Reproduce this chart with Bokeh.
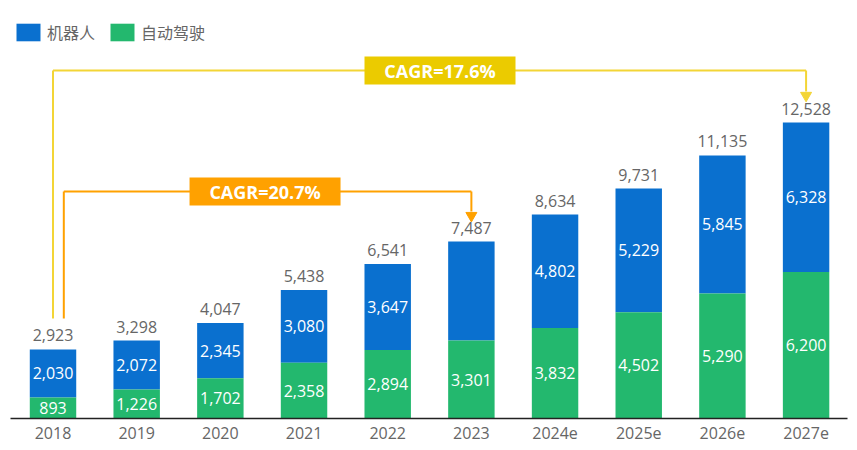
from bokeh.plotting import figure
from bokeh.models import Range1d, FixedTicker, Legend, LegendItem, ColumnDataSource
from bokeh.core.properties import value
from bokeh.embed import file_html
from bokeh.resources import INLINE

years = ["2018", "2019", "2020", "2021", "2022", "2023", "2024e", "2025e", "2026e", "2027e"]
robot = [2030, 2072, 2345, 3080, 3647, 4186, 4802, 5229, 5845, 6328]
auto = [893, 1226, 1702, 2358, 2894, 3301, 3832, 4502, 5290, 6200]
robot_labels = ["2,030", "2,072", "2,345", "3,080", "3,647", "", "4,802", "5,229", "5,845", "6,328"]
auto_labels = ["893", "1,226", "1,702", "2,358", "2,894", "3,301", "3,832", "4,502", "5,290", "6,200"]
total_labels = ["2,923", "3,298", "4,047", "5,438", "6,541", "7,487", "8,634", "9,731", "11,135", "12,528"]
cagr_labels = ["CAGR=20.7%", "CAGR=17.6%"]
legend_names = ["机器人", "自动驾驶"]

BLUE = "#0A70CF"
GREEN = "#23B86E"
YELLOW = "#EBCB00"
YELLOW_LINE = "#F3D536"
ORANGE = "#FFA100"
GRAY = "#666666"
NUM_FONT = "Open Sans"
CJK_FONT = "Noto Sans CJK SC"

FRAME_H = 418
Y_END = 17692
px = Y_END / FRAME_H  # data units per pixel

x = list(range(len(years)))
totals = [r + a for r, a in zip(robot, auto)]

p = figure(width=849, height=444, output_backend="svg", toolbar_location=None,
           x_range=Range1d(-0.508, 9.495), y_range=Range1d(0, Y_END),
           y_axis_location=None, min_border_left=10, min_border_right=2,
           min_border_top=0, min_border_bottom=26)
p.xgrid.visible = False
p.ygrid.visible = False
p.outline_line_color = None
p.background_fill_color = "white"
p.border_fill_color = "white"

src = ColumnDataSource(dict(x=x, robot=robot, auto=auto, totals=totals,
                            robot_labels=robot_labels, auto_labels=auto_labels,
                            total_labels=total_labels,
                            total_pos=[t + 14 * px for t in totals],
                            auto_mid=[a / 2 for a in auto],
                            robot_mid=[a + r / 2 for a, r in zip(auto, robot)]))

W = 0.555
rg = p.vbar(x="x", bottom="auto", top="totals", width=W, fill_color=BLUE, line_color=None, source=src)
gg = p.vbar(x="x", bottom=0, top="auto", width=W, fill_color=GREEN, line_color=None, source=src)

p.text(x="x", y="auto_mid", text="auto_labels", source=src, text_align="center",
       text_baseline="middle", text_color="white", text_font=value(NUM_FONT), text_font_size="16px")
p.text(x="x", y="robot_mid", text="robot_labels", source=src, text_align="center",
       text_baseline="middle", text_color="white", text_font=value(NUM_FONT), text_font_size="16px")
p.text(x="x", y="total_pos", text="total_labels", source=src, text_align="center",
       text_baseline="alphabetic", text_color=GRAY, text_font=value(NUM_FONT),
       text_font_size="16px")

# CAGR annotations
i0, i1, i2 = 0, 5, 9
ox = 10.8 / 83.67  # orange line sits just right of the 2018 centre
start_y = 100 * px
yel_y = 348 * px
ora_y = 227 * px
yel_tip = totals[i2] + 22 * px
ora_tip = totals[i1] + 21 * px

p.segment(x0=[i0, i0, i2], y0=[start_y, yel_y, yel_y], x1=[i0, i2, i2], y1=[yel_y, yel_y, yel_tip + 9 * px],
          line_color=YELLOW_LINE, line_width=2)
p.scatter(x=[i2], y=[yel_tip + 5 * px], marker="inverted_triangle", size=11,
          fill_color=YELLOW_LINE, line_color=YELLOW_LINE)
p.segment(x0=[i0 + ox, i0 + ox, i1], y0=[start_y, ora_y, ora_y], x1=[i0 + ox, i1, i1],
          y1=[ora_y, ora_y, ora_tip + 9 * px], line_color=ORANGE, line_width=2)
p.scatter(x=[i1], y=[ora_tip + 5 * px], marker="inverted_triangle", size=11,
          fill_color=ORANGE, line_color=ORANGE)

box_x = [2.534, 4.625]
box_y = [ora_y, yel_y]
p.rect(x=box_x, y=box_y, width=151, height=28, width_units="screen", height_units="screen",
       fill_color=[ORANGE, YELLOW], line_color=None)
p.text(x=box_x, y=box_y, text=cagr_labels, text_align="center", text_baseline="middle",
       text_color="white", text_font=value(NUM_FONT), text_font_style="bold", text_font_size="18px")

# axis
p.xaxis.ticker = FixedTicker(ticks=x)
p.xaxis.major_label_overrides = {i: y for i, y in enumerate(years)}
p.xaxis.major_tick_line_color = None
p.xaxis.major_tick_out = 0
p.xaxis.major_tick_in = 0
p.xaxis.minor_tick_line_color = None
p.xaxis.minor_tick_out = 0
p.xaxis.axis_line_color = "#222222"
p.xaxis.axis_line_width = 1.5
p.xaxis.major_label_text_color = GRAY
p.xaxis.major_label_text_font = NUM_FONT
p.xaxis.major_label_text_font_size = "16px"
p.xaxis.major_label_standoff = 8

legend = Legend(items=[LegendItem(label=legend_names[0], renderers=[rg]),
                       LegendItem(label=legend_names[1], renderers=[gg])],
                orientation="horizontal", location=(3, 374), padding=0, margin=0,
                glyph_width=30, glyph_height=22, label_height=22, label_standoff=4, spacing=12,
                label_text_font=CJK_FONT, label_text_font_size="16px", label_text_color=GRAY,
                border_line_color=None, background_fill_alpha=0)
p.add_layout(legend)

open("out.html", "w").write(file_html(p, INLINE))
